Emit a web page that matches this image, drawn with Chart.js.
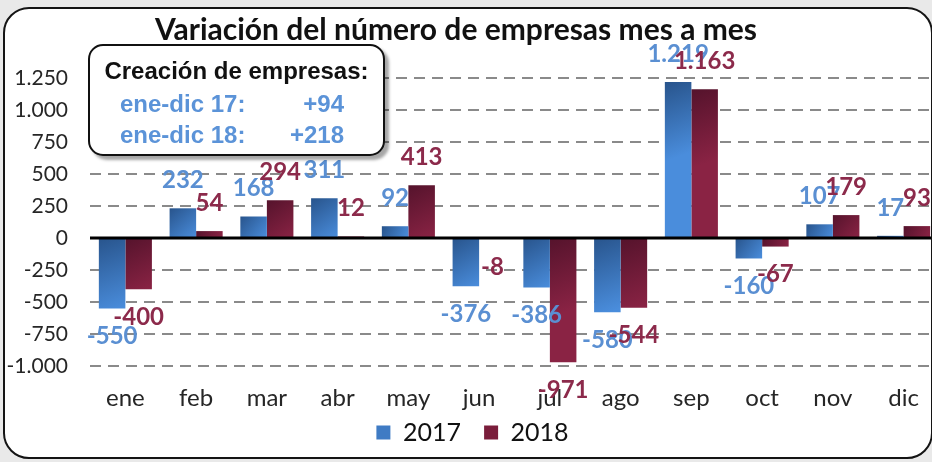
<!DOCTYPE html>
<html>
<head>
<meta charset="utf-8">
<script src="https://cdn.jsdelivr.net/npm/chart.js@4.4.1/dist/chart.umd.min.js"></script>
<style>
  html, body { margin: 0; padding: 0; width: 932px; height: 462px; overflow: hidden; background: #e9e9e9; }
  #frame {
    position: absolute; left: 3px; top: 7px; width: 926px; height: 448px;
    border: 2px solid #141414; border-radius: 26px; background: #fff; overflow: hidden;
  }
  #frame canvas { position: absolute; left: -5px; top: -9px; }
  #title {
    position: absolute; left: 0; top: 10px; width: 912px; text-align: center;
    font: bold 30px Lato, sans-serif; color: #111;
  }
  #box {
    position: absolute; left: 88px; top: 44px; width: 293px; height: 108px;
    border: 2px solid #111; border-radius: 15px; background: #fff;
    box-shadow: 4px 4px 3px rgba(0,0,0,0.35);
    font: bold 24px "Liberation Sans", Arial, sans-serif;
  }
  #box .head { position: absolute; left: 0; width: 100%; top: 11px; text-align: center; color: #111; }
  #box .row { position: absolute; left: 30px; width: 224px; color: #5b93d8; }
  #box .row span { position: absolute; right: 0; }
</style>
</head>
<body>
<div id="frame">
  <canvas id="chart" width="945" height="462"></canvas>
</div>
<div id="title">Variación del número de empresas mes a mes</div>
<div id="box">
  <div class="head">Creación de empresas:</div>
  <div class="row" style="top:44px">ene-dic 17:<span>+94</span></div>
  <div class="row" style="top:75px">ene-dic 18:<span>+218</span></div>
</div>
<script>
// --- datos ---
const meses = ['ene', 'feb', 'mar', 'abr', 'may', 'jun', 'jul', 'ago', 'sep', 'oct', 'nov', 'dic'];
const valores2017 = [-550, 232, 168, 311, 92, -376, -386, -580, 1219, -160, 107, 17];
const valores2018 = [-400, 54, 294, 12, 413, -8, -971, -544, 1163, -67, 179, 93];
const series = ['2017', '2018'];
const ejeMin = -1000;
const ejeMax = 1250;
const ejePaso = 250;

const AZUL_LABEL = '#5a8fd2';
const ROJO_LABEL = '#8c2a4b';

// formato con punto de miles (1.250)
function fmt(v) {
  const s = String(Math.abs(v)).replace(/\B(?=(\d{3})+(?!\d))/g, '.');
  return (v < 0 ? '-' : '') + s;
}

// relleno degradado de cada barra
function relleno(oscuro, claro) {
  return (ctx) => {
    const chart = ctx.chart;
    const xs = chart.scales.x, ys = chart.scales.y;
    if (ctx.type !== 'data' || !xs || !ys || !chart.chartArea) return claro;
    const v = ctx.raw;
    const cx = xs.getPixelForValue(ctx.dataIndex);
    const half = (xs.width / meses.length) * 0.75 / 2;
    const left = ctx.datasetIndex === 0 ? cx - half : cx;
    const top = ys.getPixelForValue(Math.max(v, 0));
    const bottom = ys.getPixelForValue(Math.min(v, 0));
    const g = chart.ctx.createLinearGradient(left, top, left + half, top + Math.min(bottom - top, 70));
    g.addColorStop(0, oscuro);
    g.addColorStop(1, claro);
    return g;
  };
}

const lineaCero = {
  id: 'lineaCero',
  afterDatasetsDraw(chart) {
    const { ctx, chartArea } = chart;
    const y = chart.scales.y.getPixelForValue(0);
    ctx.save();
    ctx.strokeStyle = '#000';
    ctx.lineWidth = 3;
    ctx.beginPath();
    ctx.moveTo(chartArea.left, y);
    ctx.lineTo(chartArea.right, y);
    ctx.stroke();
    ctx.restore();
  }
};

const etiquetas = {
  id: 'etiquetas',
  afterDatasetsDraw(chart) {
    const { ctx } = chart;
    ctx.save();
    ctx.textAlign = 'center';
    ctx.textBaseline = 'middle';
    chart.data.datasets.forEach((ds, i) => {
      ctx.fillStyle = i === 0 ? AZUL_LABEL : ROJO_LABEL;
      ctx.font = 'bold 24px Lato, sans-serif';
      chart.getDatasetMeta(i).data.forEach((el, j) => {
        const v = ds.data[j];
        const y = v >= 0 ? el.y - 28 : el.y + 28;
        ctx.fillText(fmt(v), el.x, y);
      });
    });
    ctx.restore();
  }
};

new Chart(document.getElementById('chart'), {
  type: 'bar',
  data: {
    labels: meses,
    datasets: [
      { label: series[0], data: valores2017, backgroundColor: relleno('#28548c', '#4a8ddc'), borderWidth: 0 },
      { label: series[1], data: valores2018, backgroundColor: relleno('#55132c', '#8a2344'), borderWidth: 0 }
    ]
  },
  options: {
    responsive: false,
    animation: false,
    categoryPercentage: 0.75,
    barPercentage: 1.0,
    layout: { padding: { top: 78, left: 6, right: 6, bottom: 7 } },
    plugins: {
      tooltip: { enabled: false },
      legend: {
        position: 'bottom',
        labels: {
          boxWidth: 14, boxHeight: 14, padding: 4,
          color: '#111',
          font: { family: 'Lato, sans-serif', size: 25 },
          generateLabels: (chart) => {
            const base = Chart.defaults.plugins.legend.labels.generateLabels(chart);
            base.forEach((it, i) => {
              it.fillStyle = i === 0 ? '#3f7bc4' : '#7a1d3b';
              if (i === 0) it.text = it.text + '   ';
            });
            return base;
          }
        }
      }
    },
    scales: {
      x: {
        grid: { display: false, drawTicks: false },
        border: { display: false },
        afterFit: (axis) => { axis.height = 50; },
        ticks: { color: '#262626', padding: 18, font: { family: 'Lato, sans-serif', size: 24 } }
      },
      y: {
        min: ejeMin, max: ejeMax,
        afterFit: (axis) => { axis.width = 84; },
        border: { display: false, dash: [11, 7] },
        grid: {
          drawTicks: false,
          lineWidth: 2,
          color: (c) => (c.tick && c.tick.value === 0 ? 'rgba(0,0,0,0)' : '#8a8a8a')
        },
        ticks: {
          stepSize: ejePaso,
          padding: 22,
          color: '#262626',
          font: { family: 'Lato, sans-serif', size: 21 },
          callback: (v) => fmt(v)
        }
      }
    }
  },
  plugins: [lineaCero, etiquetas]
});
</script>
</body>
</html>
